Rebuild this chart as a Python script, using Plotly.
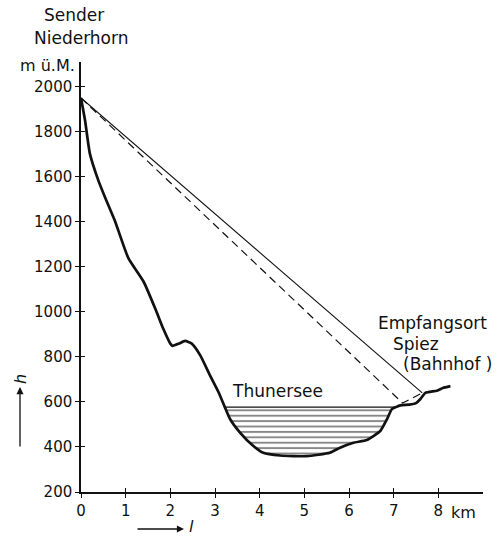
import plotly.graph_objects as go

INK = "#111111"
FONT = "DejaVu Sans"

# Geländeprofil Niederhorn -> Spiez (km, m ü.M.)
terrain_km = [0, 0.09, 0.2, 0.39, 0.54, 0.76, 1.06, 1.4, 1.69, 1.84, 2.0, 2.05,
              2.2, 2.33, 2.48, 2.67, 2.89, 3.08, 3.22, 3.34, 3.56, 3.86, 4.08,
              4.46, 5.05, 5.57, 5.8, 6.1, 6.4, 6.7, 6.85, 6.96, 7.05, 7.15,
              7.35, 7.5, 7.6, 7.71, 7.97, 8.1, 8.27]
terrain_h = [1950, 1851, 1702, 1583, 1508, 1404, 1239, 1135, 1001, 926, 859, 849,
             860, 871, 859, 807, 717, 643, 577, 523, 464, 404, 374,
             362, 359, 374, 397, 419, 431, 471, 523, 568, 577, 585,
             588, 595, 613, 640, 650, 662, 670]

lake_level = 577

# Strahlen: direkt und über die Seeoberfläche
direct_km = [0, 7.64]
direct_h = [1950, 640]
reflected_km = [0, 7.2, 7.64]
reflected_h = [1950, 595, 640]

x_ticks = [0, 1, 2, 3, 4, 5, 6, 7, 8]
y_ticks = [200, 400, 600, 800, 1000, 1200, 1400, 1600, 1800, 2000]

# plot area in pixels
W, H = 497, 537
L, R, T, B = 81, 14, 62, 45
PW, PH = W - L - R, H - T - B


def px(x, y):
    return (x - L) / PW, (H - B - y) / PH


lake_idx = [i for i, h in enumerate(terrain_h) if h <= lake_level and 3 < terrain_km[i] < 7.1]
lake_km = [terrain_km[i] for i in lake_idx]
lake_h = [terrain_h[i] for i in lake_idx]

fig = go.Figure()

fig.add_trace(go.Scatter(
    x=lake_km, y=lake_h, mode="lines", fill="toself",
    line=dict(width=0, shape="spline", smoothing=0.5),
    fillcolor="white",
    fillpattern=dict(shape="-", size=5.4, solidity=0.36, fgcolor=INK, bgcolor="white"),
    hoverinfo="skip", showlegend=False,
))
fig.add_trace(go.Scatter(
    x=[lake_km[0], lake_km[-1]], y=[lake_level, lake_level], mode="lines",
    line=dict(color=INK, width=1.3), hoverinfo="skip", showlegend=False,
))
fig.add_trace(go.Scatter(
    x=terrain_km, y=terrain_h, mode="lines",
    line=dict(color=INK, width=2.7, shape="spline", smoothing=0.5),
    hoverinfo="skip", showlegend=False,
))
fig.add_trace(go.Scatter(
    x=reflected_km, y=reflected_h, mode="lines",
    line=dict(color=INK, width=1.2, dash="8px,5px"),
    hoverinfo="skip", showlegend=False,
))
fig.add_trace(go.Scatter(
    x=direct_km, y=direct_h, mode="lines", xaxis="x2", yaxis="y2",
    line=dict(color=INK, width=1.1),
    hoverinfo="skip", showlegend=False,
))

axis_common = dict(showgrid=False, zeroline=False, ticklen=4, tickwidth=1.3,
                   tickcolor=INK, tickfont=dict(family=FONT, size=15, color=INK))
fig.update_layout(
    width=W, height=H, autosize=False,
    margin=dict(l=L, r=R, t=T, b=B),
    paper_bgcolor="white", plot_bgcolor="white",
    xaxis=dict(range=[0, 9.0], showline=True, linecolor=INK, linewidth=1.5,
               ticks="outside", tickvals=x_ticks, **axis_common),
    yaxis=dict(range=[200, 2110], showline=True, linecolor=INK, linewidth=1.5,
               ticks="outside", tickvals=y_ticks, **axis_common),
    xaxis2=dict(range=[0, 9.0], overlaying="x", anchor="y2", showline=False,
                ticks="inside", tickvals=x_ticks, showticklabels=False, **axis_common),
    yaxis2=dict(range=[200, 2110], overlaying="y", anchor="x2", showline=False,
                ticks="inside", tickvals=y_ticks, showticklabels=False, **axis_common),
)


def label(text, x, y, size=17, anchor="center", angle=0):
    ax, ay = px(x, y)
    fig.add_annotation(text=text, x=ax, y=ay, xref="paper", yref="paper",
                       xanchor=anchor, yanchor="middle", showarrow=False,
                       textangle=angle, font=dict(family=FONT, size=size, color=INK))


label("Sender", 74, 15)
label("Niederhorn", 81, 38)
label("m ü.M.", 77, 65, size=16, anchor="right")
label("Thunersee", 277, 391)
label("Empfangsort", 432, 323)
label("Spiez", 416, 344)
label("(Bahnhof )", 447, 364)
label("km", 463, 512, size=16)
label("<i>h</i>", 20, 379, size=16, angle=-90)
label("<i>l</i>", 191, 526, size=16)

# Pfeile an den Achsenbezeichnungen
for tip, tail in [((20, 387), (20, 448)), ((184, 529), (136, 529))]:
    tx, ty = px(*tip)
    fig.add_annotation(x=tx, y=ty, xref="paper", yref="paper", text="",
                       showarrow=True, arrowhead=2, arrowsize=1.1, arrowwidth=1.3,
                       arrowcolor=INK, ax=tail[0] - tip[0], ay=tail[1] - tip[1])

fig.write_html("out.html", config={"displayModeBar": False},
               post_script="document.body.style.margin='0';document.body.style.overflow='hidden';")
